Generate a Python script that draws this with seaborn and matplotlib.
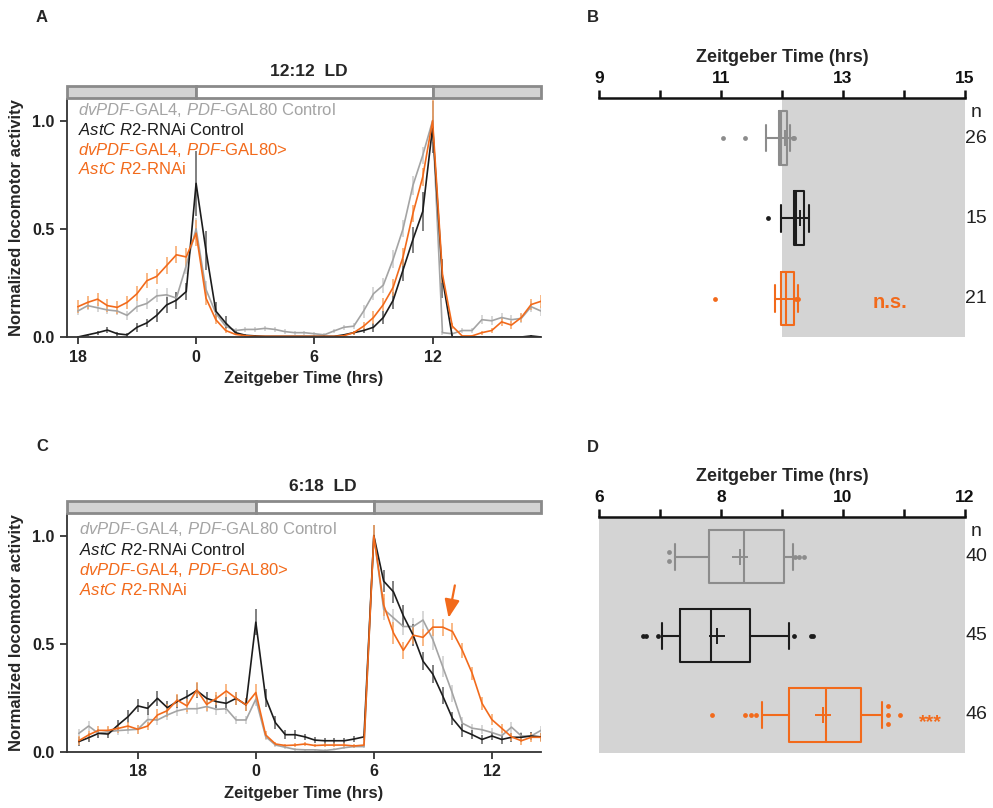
import numpy as np
import pandas as pd
import matplotlib
matplotlib.use("Agg")
import matplotlib.pyplot as plt
from matplotlib.patches import Rectangle
import seaborn as sns

# ---------------------------------------------------------------- colours
LINE_COLORS = ["#a4a4a4", "#1c1c1c", "#f26a1b"]
ERR_COLORS = ["#cdcdcd", "#5e5e5e", "#f8a666"]
BOX_COLORS = ["#8c8c8c", "#1c1c1c", "#f26a1b"]
ORANGE = "#f26a1b"
BAR_DARK = "#d3d3d3"
SHADE = "#d4d4d4"

# ---------------------------------------------------------------- labels
genotypes = ["dvPDF>Ctrl", "RNAi Ctrl", "dvPDF>AstC-R2 RNAi"]
legend_lines = [
    (r"$\mathit{dvPDF}$-GAL4, $\mathit{PDF}$-GAL80 Control", 0),
    (r"$\mathit{AstC\ R2}$-RNAi Control", 1),
    (r"$\mathit{dvPDF}$-GAL4, $\mathit{PDF}$-GAL80>", 2),
    (r"$\mathit{AstC\ R2}$-RNAi", 2),
]
tick_pos_lines = [-6, 0, 6, 12]
tick_lab_lines = ["18", "0", "6", "12"]

# ---------------------------------------------------------------- panel A (12:12 LD)
zt_a = np.arange(-6.0, 18.0, 0.5)          # ZT18 (= -6) ... ZT17.5
a_gray = [0.12, 0.145, 0.135, 0.125, 0.12, 0.10, 0.14, 0.155, 0.19, 0.195, 0.18, 0.33,
          0.50, 0.22, 0.11, 0.05, 0.03, 0.035, 0.035, 0.04, 0.035, 0.025, 0.02, 0.02,
          0.015, 0.01, 0.028, 0.045, 0.05, 0.12, 0.20, 0.24, 0.36, 0.50, 0.70, 0.84,
          1.0, 0.02, 0.015, 0.03, 0.03, 0.08, 0.075, 0.09, 0.08, 0.086, 0.14, 0.12]
a_black = [0.0, 0.01, 0.02, 0.032, 0.015, 0.01, 0.045, 0.065, 0.10, 0.148, 0.17, 0.21,
           0.71, 0.40, 0.12, 0.065, 0.02, 0.008, 0.005, 0.003, 0.003, 0.003, 0.003, 0.003,
           0.003, 0.003, 0.003, 0.01, 0.02, 0.03, 0.045, 0.09, 0.17, 0.31, 0.45, 0.58,
           0.97, 0.27, 0.0, 0.0, 0.0, 0.0, 0.0, 0.0, 0.0, 0.0, 0.005, 0.0]
a_orange = [0.14, 0.16, 0.175, 0.145, 0.137, 0.16, 0.20, 0.26, 0.28, 0.33, 0.38, 0.37,
            0.48, 0.18, 0.08, 0.03, 0.012, 0.006, 0.003, 0.003, 0.003, 0.003, 0.003, 0.003,
            0.003, 0.003, 0.003, 0.006, 0.02, 0.05, 0.09, 0.15, 0.23, 0.37, 0.57, 0.74,
            1.0, 0.29, 0.05, 0.005, 0.005, 0.02, 0.03, 0.07, 0.055, 0.09, 0.15, 0.165]
a_gray_sem = [0.02, 0.02, 0.02, 0.02, 0.02, 0.02, 0.025, 0.025, 0.03, 0.03, 0.03, 0.04,
              0.05, 0.04, 0.02, 0.015, 0.01, 0.01, 0.01, 0.012, 0.01, 0.01, 0.01, 0.01,
              0.01, 0.01, 0.01, 0.012, 0.015, 0.03, 0.03, 0.035, 0.04, 0.04, 0.045, 0.04,
              0.02, 0.01, 0.01, 0.012, 0.012, 0.02, 0.02, 0.02, 0.02, 0.02, 0.025, 0.025]
a_black_sem = [0.005, 0.005, 0.01, 0.012, 0.01, 0.01, 0.02, 0.02, 0.03, 0.035, 0.04, 0.04,
               0.15, 0.09, 0.04, 0.03, 0.01, 0.005, 0.003, 0.003, 0.003, 0.003, 0.003, 0.003,
               0.003, 0.003, 0.003, 0.005, 0.01, 0.01, 0.02, 0.03, 0.04, 0.05, 0.06, 0.09,
               0.12, 0.09, 0.003, 0.003, 0.003, 0.003, 0.003, 0.003, 0.003, 0.003, 0.003, 0.003]
a_orange_sem = [0.03, 0.03, 0.03, 0.03, 0.03, 0.03, 0.035, 0.035, 0.035, 0.04, 0.04, 0.04,
                0.06, 0.03, 0.02, 0.01, 0.005, 0.004, 0.003, 0.003, 0.003, 0.003, 0.003, 0.003,
                0.003, 0.003, 0.003, 0.005, 0.01, 0.02, 0.03, 0.03, 0.04, 0.04, 0.04, 0.04,
                0.1, 0.04, 0.015, 0.005, 0.005, 0.01, 0.01, 0.02, 0.02, 0.02, 0.025, 0.03]

# ---------------------------------------------------------------- panel C (6:18 LD)
zt_c = np.arange(-9.0, 15.0, 0.5)          # ZT15 (= -9) ... ZT14.5
c_gray = [0.086, 0.12, 0.086, 0.094, 0.099, 0.102, 0.105, 0.15, 0.148, 0.171, 0.19, 0.20,
          0.20, 0.21, 0.197, 0.20, 0.148, 0.148, 0.244, 0.071, 0.032, 0.022, 0.012, 0.01,
          0.01, 0.007, 0.012, 0.02, 0.025, 0.025, 1.0, 0.66, 0.62, 0.58, 0.58, 0.61,
          0.52, 0.395, 0.27, 0.133, 0.11, 0.103, 0.09, 0.075, 0.115, 0.074, 0.074, 0.10]
c_black = [0.048, 0.066, 0.086, 0.083, 0.125, 0.163, 0.213, 0.202, 0.248, 0.205, 0.233, 0.256,
           0.284, 0.248, 0.233, 0.225, 0.248, 0.218, 0.60, 0.25, 0.135, 0.08, 0.08, 0.07,
           0.055, 0.052, 0.052, 0.052, 0.06, 0.07, 1.0, 0.79, 0.74, 0.63, 0.54, 0.42,
           0.36, 0.26, 0.155, 0.10, 0.08, 0.058, 0.074, 0.058, 0.068, 0.068, 0.074, 0.07]
c_orange = [0.052, 0.079, 0.10, 0.10, 0.109, 0.12, 0.105, 0.12, 0.171, 0.191, 0.24, 0.213,
            0.287, 0.22, 0.248, 0.282, 0.248, 0.218, 0.275, 0.079, 0.037, 0.03, 0.032, 0.037,
            0.03, 0.032, 0.032, 0.032, 0.028, 0.032, 1.0, 0.68, 0.55, 0.47, 0.54, 0.53,
            0.577, 0.577, 0.557, 0.47, 0.364, 0.225, 0.15, 0.11, 0.07, 0.052, 0.068, 0.068]
c_gray_sem = [0.02, 0.025, 0.02, 0.02, 0.02, 0.02, 0.02, 0.025, 0.025, 0.025, 0.025, 0.025,
              0.025, 0.025, 0.025, 0.025, 0.02, 0.02, 0.03, 0.015, 0.01, 0.008, 0.006, 0.005,
              0.005, 0.005, 0.005, 0.006, 0.006, 0.006, 0.02, 0.05, 0.04, 0.04, 0.04, 0.04,
              0.05, 0.05, 0.04, 0.03, 0.02, 0.02, 0.02, 0.02, 0.025, 0.02, 0.02, 0.02]
c_black_sem = [0.02, 0.02, 0.02, 0.02, 0.025, 0.03, 0.03, 0.03, 0.035, 0.03, 0.03, 0.03,
               0.035, 0.03, 0.03, 0.03, 0.03, 0.03, 0.06, 0.04, 0.03, 0.02, 0.02, 0.015,
               0.015, 0.015, 0.015, 0.015, 0.015, 0.015, 0.05, 0.05, 0.05, 0.05, 0.05, 0.04,
               0.04, 0.04, 0.03, 0.03, 0.02, 0.02, 0.02, 0.02, 0.02, 0.02, 0.02, 0.02]
c_orange_sem = [0.02, 0.02, 0.02, 0.02, 0.02, 0.02, 0.02, 0.02, 0.03, 0.03, 0.03, 0.03,
                0.035, 0.03, 0.03, 0.03, 0.03, 0.03, 0.04, 0.02, 0.01, 0.008, 0.008, 0.008,
                0.008, 0.008, 0.008, 0.008, 0.008, 0.008, 0.05, 0.05, 0.05, 0.04, 0.04, 0.04,
                0.04, 0.04, 0.04, 0.035, 0.03, 0.03, 0.025, 0.02, 0.02, 0.02, 0.02, 0.02]

# ---------------------------------------------------------------- panels B / D (evening peak phase)
n_b = [26, 15, 21]
b_whislo = [11.74, 11.99, 11.88]
b_q1 = [11.95, 12.19, 11.99]
b_med = [11.98, 12.23, 12.06]
b_q3 = [12.08, 12.36, 12.20]
b_whishi = [12.13, 12.44, 12.26]
b_mean = [12.05, 12.30, 12.07]
b_fliers = [[11.04, 11.40, 12.18, 12.20], [11.77], [10.90, 12.23, 12.27]]

n_d = [40, 45, 46]
d_whislo = [7.25, 7.03, 8.67]
d_q1 = [7.80, 7.33, 9.11]
d_med = [8.38, 7.84, 9.72]
d_q3 = [9.03, 8.48, 10.29]
d_whishi = [9.18, 9.11, 10.64]
d_mean = [8.31, 7.94, 9.67]
d_fliers = [[7.15, 7.15, 9.22, 9.28, 9.36],
            [6.72, 6.77, 6.97, 9.20, 9.47, 9.51],
            [7.85, 8.39, 8.49, 8.57, 10.74, 10.74, 10.74, 10.94]]

# ---------------------------------------------------------------- style
sns.set_theme(style="ticks")
plt.rcParams["font.family"] = ["Liberation Sans", "DejaVu Sans"]
plt.rcParams["mathtext.fontset"] = "custom"
plt.rcParams["mathtext.rm"] = "Liberation Sans"
plt.rcParams["mathtext.it"] = "Liberation Sans:italic"
plt.rcParams["mathtext.bf"] = "Liberation Sans:bold"

W, H = 993, 808
fig = plt.figure(figsize=(W / 100, H / 100), dpi=100)


def rect(l, t, r, b):
    return [l / W, 1 - b / H, (r - l) / W, (b - t) / H]


def profile_panel(ax, zt, series, sems, xlim, light_on, light_off, title, title_x, leg_y):
    frames = []
    for g, vals in zip(genotypes, series):
        frames.append(pd.DataFrame({"zt": zt, "activity": vals, "genotype": g}))
    df = pd.concat(frames, ignore_index=True)
    for vals, sem, ec in zip(series, sems, ERR_COLORS):
        ax.errorbar(zt, vals, yerr=sem, fmt="none", ecolor=ec, elinewidth=1.1,
                    capsize=0, zorder=1)
    sns.lineplot(data=df, x="zt", y="activity", hue="genotype", hue_order=genotypes,
                 palette=LINE_COLORS, legend=False, errorbar=None, lw=1.2, ax=ax, zorder=2)
    ax.set_xlim(*xlim)
    ax.set_ylim(0, 1.1)
    ax.set_xticks(tick_pos_lines)
    ax.set_xticklabels(tick_lab_lines, fontweight="bold", fontsize=11.5)
    ax.set_yticks([0, 0.5, 1.0])
    ax.set_yticklabels(["0.0", "0.5", "1.0"], fontweight="bold", fontsize=11.5)
    ax.set_xlabel("Zeitgeber Time (hrs)", fontweight="bold", fontsize=12, labelpad=5)
    ax.set_ylabel("Normalized locomotor activity", fontweight="bold", fontsize=12, labelpad=6)
    for s in ["top", "right"]:
        ax.spines[s].set_visible(False)
    for s in ["left", "bottom"]:
        ax.spines[s].set_color("#333333")
        ax.spines[s].set_linewidth(1.3)
    ax.tick_params(direction="out", length=5, width=1.2, colors="#222222", pad=4)
    # LD bar
    y0, hgt = 1.105, 0.055
    segs = [(xlim[0], light_on, BAR_DARK), (light_on, light_off, "white"),
            (light_off, xlim[1], BAR_DARK)]
    for x0, x1, fc in segs:
        ax.add_patch(Rectangle((x0, y0), x1 - x0, hgt, facecolor=fc, edgecolor="#8a8a8a",
                               lw=2.0, clip_on=False, zorder=3))
    ax.text(title_x, 1.225, title, ha="center", va="center", fontweight="bold",
            fontsize=12.5)
    for (txt, ci), yy in zip(legend_lines, leg_y):
        ax.text(zt[0], yy, txt, color=LINE_COLORS[ci], fontsize=12, ha="left",
                va="center", zorder=4)


def stack_fliers(ax, vals, row, color, size):
    xs, ys = [], []
    for v in sorted(set(vals)):
        c = vals.count(v)
        for i in range(c):
            xs.append(v)
            ys.append(row + (i - (c - 1) / 2) * 0.11)
    ax.scatter(xs, ys, s=size, color=color, lw=0, zorder=4)


def phase_panel(ax, whislo, q1, med, q3, whishi, mean, fliers, ns, xlim, dark_start,
                sig_text, sig_x, sig_y, sig_size):
    ax.axvspan(dark_start, xlim[1], color=SHADE, lw=0, zorder=0)
    for i in range(3):
        st = [dict(whislo=whislo[i], q1=q1[i], med=med[i], q3=q3[i], whishi=whishi[i],
                   mean=mean[i], fliers=[])]
        col = BOX_COLORS[i]
        kw = dict(positions=[i], widths=0.67, capwidths=0.33, showmeans=True,
                  showfliers=False, patch_artist=False,
                  boxprops=dict(color=col, lw=1.5),
                  whiskerprops=dict(color=col, lw=1.5),
                  capprops=dict(color=col, lw=1.5),
                  medianprops=dict(color=col, lw=1.5),
                  meanprops=dict(marker="+", markersize=11, markeredgecolor=col,
                                 markeredgewidth=1.4))
        try:
            ax.bxp(st, orientation="horizontal", **kw)
        except TypeError:
            ax.bxp(st, vert=False, **kw)
        stack_fliers(ax, fliers[i], i, col, 12)
    ax.set_xlim(*xlim)
    ax.set_ylim(2.48, -0.5)
    ax.set_yticks([])
    ticks = list(range(int(xlim[0]), int(xlim[1]) + 1))
    ax.set_xticks(ticks)
    ax.set_xticklabels([str(t) if (t - ticks[0]) % 2 == 0 else "" for t in ticks],
                       fontweight="bold", fontsize=12.5)
    ax.xaxis.tick_top()
    ax.xaxis.set_label_position("top")
    ax.set_xlabel("Zeitgeber Time (hrs)", fontweight="bold", fontsize=13, labelpad=6)
    ax.tick_params(axis="x", direction="out", length=6, width=1.8, colors="#111111", pad=3)
    for s in ["left", "right", "bottom"]:
        ax.spines[s].set_visible(False)
    ax.spines["top"].set_linewidth(1.8)
    ax.spines["top"].set_color("#111111")
    tr = ax.get_yaxis_transform()
    ax.text(1.03, -0.32, "n", transform=tr, ha="center", va="center", fontsize=14,
            color="#222222")
    for i, n in enumerate(ns):
        ax.text(1.03, i, str(n), transform=tr, ha="center", va="center", fontsize=14,
                color="#222222")
    ax.text(sig_x, sig_y, sig_text, ha="center", va="center", color=ORANGE,
            fontweight="bold", fontsize=sig_size)


axA = fig.add_axes(rect(67, 99, 541, 337))
profile_panel(axA, zt_a, [a_gray, a_black, a_orange], [a_gray_sem, a_black_sem, a_orange_sem],
              (-6.55, 17.5), 0, 12, "12:12  LD", 5.7, [1.05, 0.958, 0.866, 0.775])

axC = fig.add_axes(rect(67, 514, 541, 752))
profile_panel(axC, zt_c, [c_gray, c_black, c_orange], [c_gray_sem, c_black_sem, c_orange_sem],
              (-9.6, 14.5), 0, 6, "6:18  LD", 3.4, [1.03, 0.935, 0.84, 0.748])
axC.annotate("", xy=(9.8, 0.62), xytext=(10.12, 0.77),
             arrowprops=dict(arrowstyle="-|>,head_length=1.1,head_width=0.45",
                             color=ORANGE, lw=1.6, mutation_scale=10, shrinkA=0, shrinkB=0))

axB = fig.add_axes(rect(599, 98, 965, 337))
phase_panel(axB, b_whislo, b_q1, b_med, b_q3, b_whishi, b_mean, b_fliers, n_b, (9, 15), 12,
            "n.s.", 13.77, 2.05, 14.5)

axD = fig.add_axes(rect(599, 517, 965, 753))
phase_panel(axD, d_whislo, d_q1, d_med, d_q3, d_whishi, d_mean, d_fliers, n_d, (6, 12), 6,
            "***", 11.43, 2.1, 14)

for lab, x, y in [("A", 42, 18), ("B", 593, 17), ("C", 42, 446), ("D", 593, 447)]:
    fig.text(x / W, 1 - y / H, lab, ha="center", va="center", fontweight="bold", fontsize=12)

fig.savefig("out.png", dpi=100)
